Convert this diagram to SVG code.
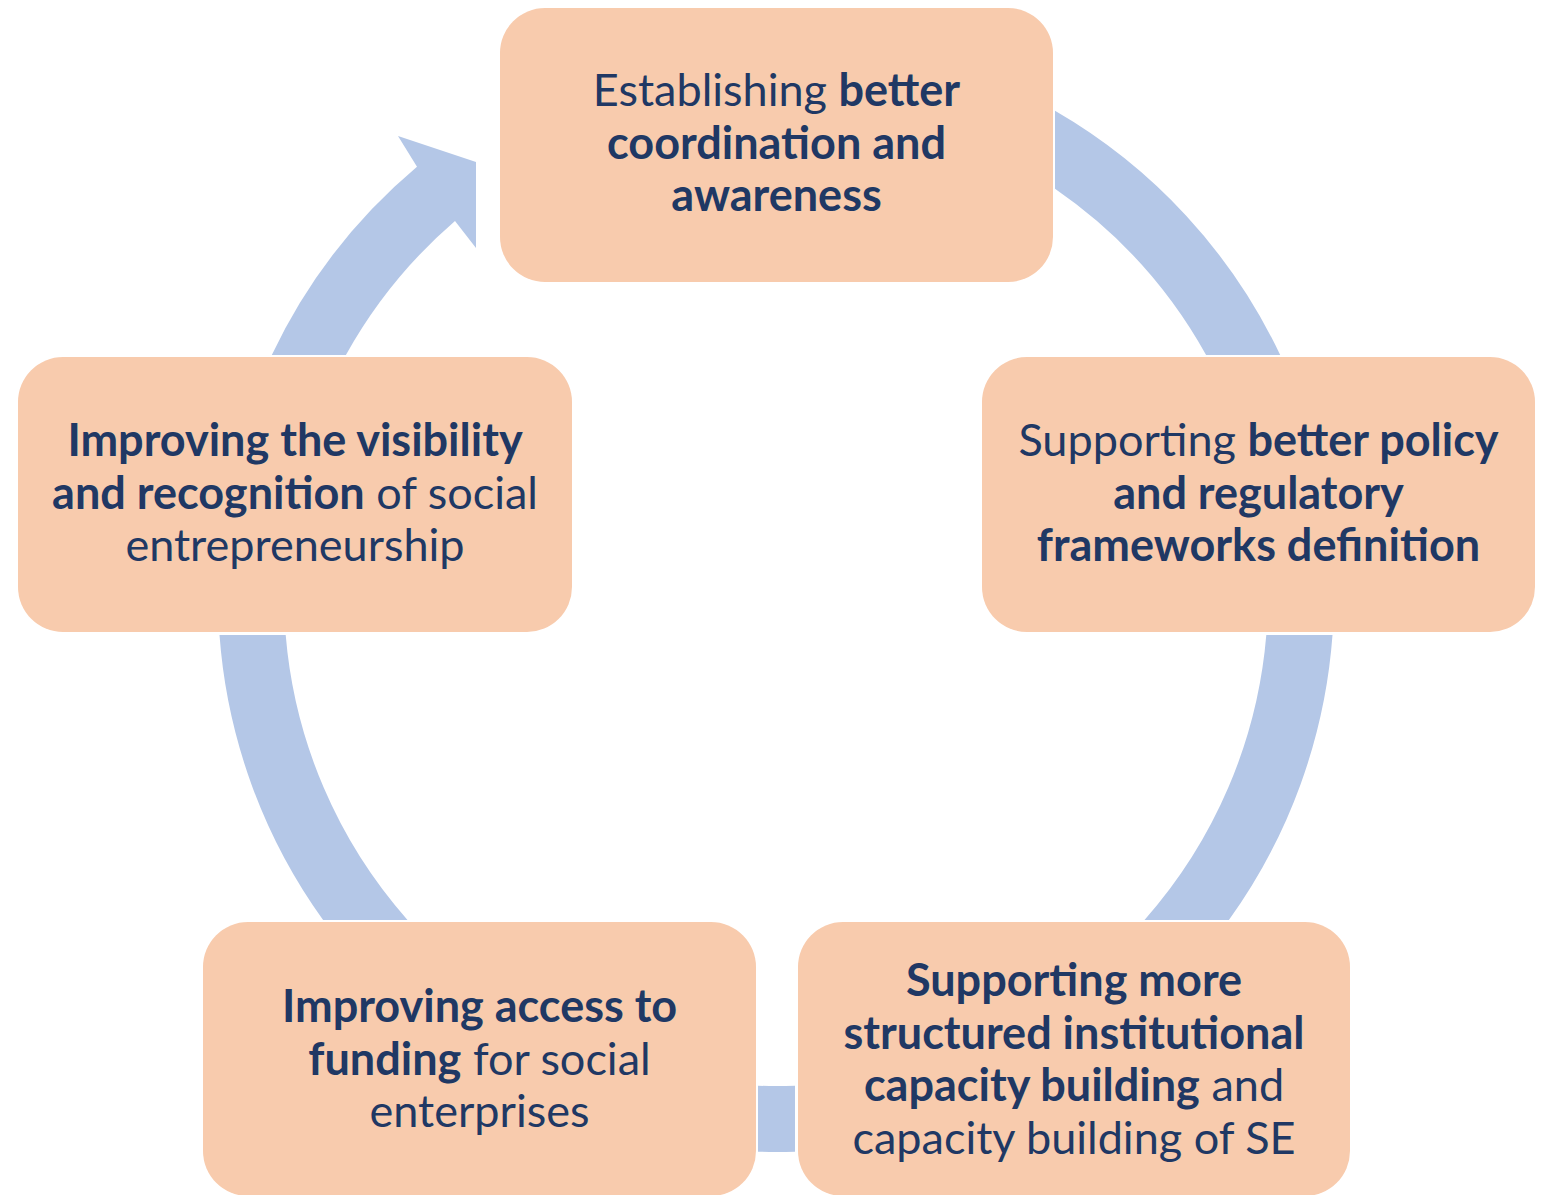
<svg xmlns="http://www.w3.org/2000/svg" width="1543" height="1195" viewBox="0 0 1543 1195">
  <style>
    .ring { fill: #B4C7E7; }
    .box { fill: #F8CBAD; }
    .t { font-family: Lato, "Open Sans", "Liberation Sans", sans-serif; font-size: 45px; fill: #203864; text-anchor: middle; }
    .b { font-weight: bold; }
  </style>
  <rect width="1543" height="1195" fill="#FFFFFF"/>
  <g id="connectors">
    <path class="ring" d="M1055,110.8 A558,558 0 0 1 1280.2,355 L1206.1,355 A492,492 0 0 0 1055,188.8 Z"/>
    <path class="ring" d="M1332.5,635 A558,558 0 0 1 1228.9,920 L1144.5,920 A492,492 0 0 0 1266.3,635 Z"/>
    <path class="ring" d="M758,1085.7 L758,1151.7 A558,558 0 0 0 795,1151.7 L795,1085.7 A492,492 0 0 1 758,1085.7 Z"/>
    <path class="ring" d="M323.1,920 A558,558 0 0 1 219.5,635 L285.7,635 A492,492 0 0 0 407.5,920 Z"/>
    <path class="ring" d="M271.8,355 A558,558 0 0 1 417,166.8 L398,136 L476,162 L476,248 L455,221 A492,492 0 0 0 345.9,355 Z"/>
  </g>
  <g id="node-coordination">
    <rect class="box" x="500" y="8" width="553" height="274" rx="45" ry="45"/>
    <text class="t" x="776.5" y="106">Establishing <tspan class="b">better</tspan></text>
    <text class="t b" x="776.5" y="158.5">coordination and</text>
    <text class="t b" x="776.5" y="211">awareness</text>
  </g>
  <g id="node-policy">
    <rect class="box" x="982" y="357" width="553" height="275" rx="45" ry="45"/>
    <text class="t" x="1258.5" y="456">Supporting <tspan class="b">better policy</tspan></text>
    <text class="t b" x="1258.5" y="508.5">and regulatory</text>
    <text class="t b" x="1258.5" y="561">frameworks definition</text>
  </g>
  <g id="node-capacity">
    <rect class="box" x="798" y="922" width="552" height="274" rx="45" ry="45"/>
    <text class="t b" x="1074" y="996">Supporting more</text>
    <text class="t b" x="1074" y="1048.5">structured institutional</text>
    <text class="t" x="1074" y="1101"><tspan class="b">capacity building</tspan> and</text>
    <text class="t" x="1074" y="1153.5">capacity building of SE</text>
  </g>
  <g id="node-funding">
    <rect class="box" x="203" y="922" width="553" height="274" rx="45" ry="45"/>
    <text class="t b" x="479.5" y="1022">Improving access to</text>
    <text class="t" x="479.5" y="1074.5"><tspan class="b">funding</tspan> for social</text>
    <text class="t" x="479.5" y="1127">enterprises</text>
  </g>
  <g id="node-visibility">
    <rect class="box" x="18" y="357" width="554" height="275" rx="45" ry="45"/>
    <text class="t b" x="295" y="456">Improving the visibility</text>
    <text class="t" x="295" y="508.5"><tspan class="b">and recognition</tspan> of social</text>
    <text class="t" x="295" y="561">entrepreneurship</text>
  </g>
</svg>
